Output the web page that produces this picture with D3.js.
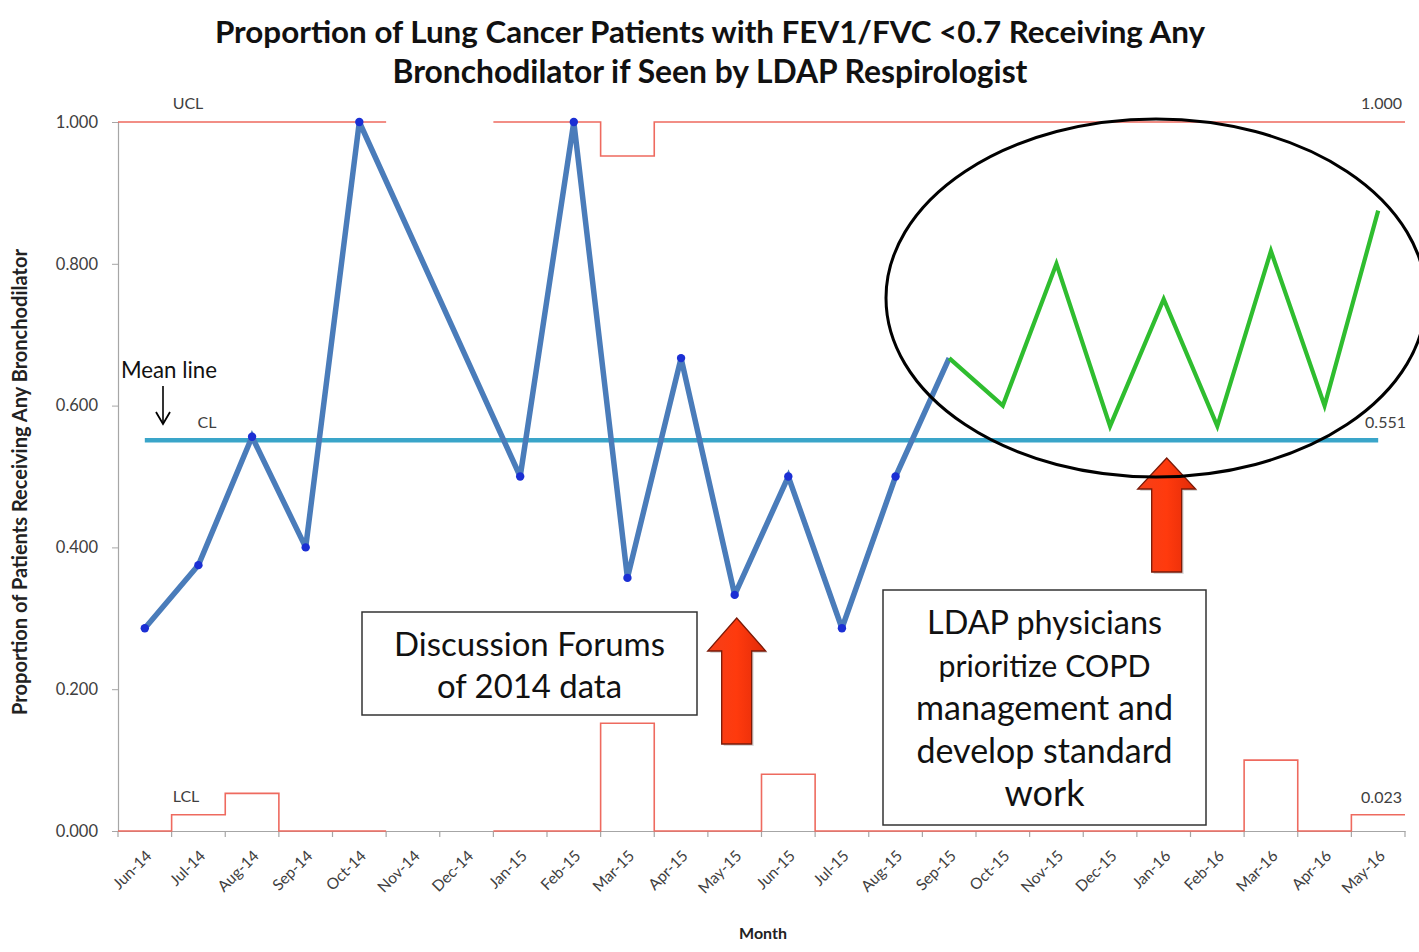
<!DOCTYPE html>
<html>
<head>
<meta charset="utf-8">
<script src="https://cdn.jsdelivr.net/npm/d3@7"></script>
<style>
  html, body { margin: 0; padding: 0; background: #fff; }
  svg { display: block; font-family: Lato, "Open Sans", sans-serif; }
</style>
</head>
<body>
<svg id="chart" width="1419" height="952"></svg>
<script>
// ---------------- DATA ----------------
const months = ["Jun-14","Jul-14","Aug-14","Sep-14","Oct-14","Nov-14","Dec-14","Jan-15","Feb-15","Mar-15","Apr-15","May-15",
                "Jun-15","Jul-15","Aug-15","Sep-15","Oct-15","Nov-15","Dec-15","Jan-16","Feb-16","Mar-16","Apr-16","May-16"];
// Baseline period (blue, with markers)
const baselineValues = [0.286,0.375,0.556,0.400,1.000,null,null,0.500,1.000,0.357,0.667,0.333,
                        0.500,0.286,0.500,0.667,null,null,null,null,null,null,null,null];
// Improvement period (green)
const improvementValues = [null,null,null,null,null,null,null,null,null,null,null,null,
                           null,null,null,0.667,0.600,0.800,0.571,0.750,0.571,0.818,0.600,0.875];
const uclValues = [1,1,1,1,1,null,null,1,1,0.952,1,1,1,1,1,1,1,1,1,1,1,1,1,1];
const lclValues = [0,0.023,0.053,0,0,null,null,0,0,0.152,0,0,0.080,0,0,0,0,0,0,0,0,0.100,0,0.023];
const centerLine = 0.551;
const yTicks = [0, 0.2, 0.4, 0.6, 0.8, 1.0];
const titleLines = ["Proportion of Lung Cancer Patients with FEV1/FVC <0.7 Receiving Any",
                    "Bronchodilator if Seen by LDAP Respirologist"];
const yAxisTitle = "Proportion of Patients Receiving Any Bronchodilator";
const xAxisTitle = "Month";
const box1Lines = ["Discussion Forums", "of 2014 data"];
const box2Lines = ["LDAP physicians", "prioritize COPD", "management and", "develop standard", "work"];

// ---------------- SETUP ----------------
const svg = d3.select("#chart");
const x = d3.scaleBand().domain(months).range([118, 1405]).padding(0);
const y = d3.scaleLinear().domain([0, 1]).range([831, 122]);
const cx = m => x(m) + x.bandwidth() / 2;

function fitWidth(sel, target) {
  sel.each(function () {
    const fs = parseFloat(this.getAttribute("font-size"));
    const w = this.getComputedTextLength();
    if (w > 0) this.setAttribute("font-size", (fs * target / w).toFixed(2));
  });
}

// ---------------- TITLE ----------------
const titleW = [990, 635];
titleLines.forEach((t, i) => {
  svg.append("text").attr("x", 710).attr("y", 43 + i * 40)
    .attr("text-anchor", "middle").attr("font-size", 26).attr("font-weight", "bold")
    .attr("fill", "#111").text(t).call(fitWidth, titleW[i]);
});

// ---------------- AXES ----------------
const yAxis = d3.axisLeft(y).tickValues(yTicks).tickFormat(d3.format(".3f")).tickSize(6).tickPadding(14);
const gy = svg.append("g").attr("transform", "translate(118,0)").call(yAxis);
gy.select(".domain").attr("stroke", "#a6a6a6").attr("stroke-width", 1.2);
gy.selectAll(".tick line").attr("stroke", "#a6a6a6");
gy.selectAll(".tick text").attr("font-size", 16.5).attr("fill", "#404040").attr("font-family", "Lato, sans-serif");

const xAxis = d3.axisBottom(x).tickSize(0).tickSizeOuter(0);
const gx = svg.append("g").attr("transform", "translate(0,831)").call(xAxis);
gx.select(".domain").attr("stroke", "#a6a6a6").attr("stroke-width", 1.2);
gx.selectAll(".tick text")
  .attr("font-size", 15.5).attr("fill", "#404040").attr("font-family", "Lato, sans-serif")
  .attr("text-anchor", "end")
  .attr("transform", "translate(4,22) rotate(-45)")
  .attr("dy", "0.35em").attr("y", 0);
// band-edge tick marks
const edges = months.map(m => x(m)).concat([x.range()[1]]);
svg.append("g").selectAll("line").data(edges).join("line")
  .attr("x1", d => d).attr("x2", d => d).attr("y1", 831).attr("y2", 837)
  .attr("stroke", "#a6a6a6").attr("stroke-width", 1.2);

svg.append("text").attr("transform", "translate(27,482) rotate(-90)")
  .attr("text-anchor", "middle").attr("font-size", 14).attr("font-weight", "bold")
  .attr("fill", "#222").text(yAxisTitle).call(fitWidth, 466);
svg.append("text").attr("x", 763).attr("y", 939).attr("text-anchor", "middle")
  .attr("font-size", 16).attr("font-weight", "bold").attr("fill", "#222").text(xAxisTitle);

// ---------------- CONTROL LIMITS (step lines) ----------------
function stepPoints(vals) {
  const pts = [];
  months.forEach((m, i) => {
    pts.push({ x: x(m), v: vals[i] });
    pts.push({ x: x(m) + x.bandwidth(), v: vals[i] });
  });
  return pts;
}
const stepLine = d3.line().defined(d => d.v != null).x(d => d.x).y(d => y(d.v));
svg.append("path").attr("d", stepLine(stepPoints(uclValues)))
  .attr("fill", "none").attr("stroke", "#ee6a5f").attr("stroke-width", 1.6);
svg.append("path").attr("d", stepLine(stepPoints(lclValues)))
  .attr("fill", "none").attr("stroke", "#ee6a5f").attr("stroke-width", 1.6);

// Center line
svg.append("line").attr("x1", cx(months[0])).attr("x2", cx(months[months.length - 1]))
  .attr("y1", y(centerLine)).attr("y2", y(centerLine))
  .attr("stroke", "#3aa5c9").attr("stroke-width", 4.5);

// ---------------- SERIES ----------------
const pts = vals => months.map((m, i) => ({ m, v: vals[i] })).filter(d => d.v != null);
const valLine = d3.line().x(d => cx(d.m)).y(d => y(d.v));
const basePts = pts(baselineValues);
svg.append("path").attr("d", valLine(basePts))
  .attr("fill", "none").attr("stroke", "#4a7cba").attr("stroke-width", 5.5)
  .attr("stroke-linejoin", "miter").attr("stroke-miterlimit", 3);
svg.append("g").selectAll("circle").data(basePts.slice(0, -1)).join("circle")
  .attr("cx", d => cx(d.m)).attr("cy", d => y(d.v)).attr("r", 4.2).attr("fill", "#1b2fd4");
svg.append("path").attr("d", valLine(pts(improvementValues)))
  .attr("fill", "none").attr("stroke", "#2fbd2f").attr("stroke-width", 4.2)
  .attr("stroke-linejoin", "miter");

// ---------------- LABELS ----------------
const lblFs = 16;
function smallLabel(t, xx, yy, anchor) {
  svg.append("text").attr("x", xx).attr("y", yy).attr("text-anchor", anchor || "middle")
    .attr("font-size", lblFs).attr("fill", "#404040").text(t);
}
smallLabel("UCL", 188, 109);
smallLabel("CL", 207, 428);
smallLabel("LCL", 186, 802);
smallLabel(d3.format(".3f")(uclValues[uclValues.length - 1]), 1402, 109, "end");
smallLabel(d3.format(".3f")(centerLine), 1406, 428, "end");
smallLabel(d3.format(".3f")(lclValues[lclValues.length - 1]), 1402, 803, "end");

// Mean line annotation
svg.append("text").attr("x", 121).attr("y", 378).attr("font-size", 19).attr("fill", "#111")
  .text("Mean line").call(fitWidth, 96);
svg.append("line").attr("x1", 163).attr("x2", 163).attr("y1", 386).attr("y2", 422)
  .attr("stroke", "#000").attr("stroke-width", 1.6);
svg.append("path").attr("d", "M156,412 L163,424 L170,412").attr("fill", "none")
  .attr("stroke", "#000").attr("stroke-width", 1.8);

// ---------------- TEXT BOXES ----------------
function textBox(x0, y0, w, h, lines, base, step, widths) {
  svg.append("rect").attr("x", x0).attr("y", y0).attr("width", w).attr("height", h)
    .attr("fill", "#fff").attr("stroke", "#333").attr("stroke-width", 1.5);
  lines.forEach((t, i) => {
    svg.append("text").attr("x", x0 + w / 2).attr("y", base + i * step)
      .attr("text-anchor", "middle").attr("font-size", 27).attr("fill", "#111")
      .text(t).call(fitWidth, widths[i]);
  });
}
textBox(362, 612, 335, 103, box1Lines, 656, 42, [271, 185]);
textBox(883, 590, 323, 235, box2Lines, 634, 43, [235, 212, 257, 256, 80]);

// ---------------- RED ARROWS ----------------
const defs = svg.append("defs");
const grad = defs.append("linearGradient").attr("id", "arrowGrad").attr("x1", 0).attr("x2", 1);
grad.append("stop").attr("offset", "0%").attr("stop-color", "#f5401a");
grad.append("stop").attr("offset", "50%").attr("stop-color", "#ff3a0d");
grad.append("stop").attr("offset", "100%").attr("stop-color", "#e02a08");
function upArrow(xc, tip, headBase, bottom, headHalf, shaftHalf) {
  const p = `M${xc},${tip} L${xc + headHalf},${headBase} L${xc + shaftHalf},${headBase} L${xc + shaftHalf},${bottom}
             L${xc - shaftHalf},${bottom} L${xc - shaftHalf},${headBase} L${xc - headHalf},${headBase} Z`;
  svg.append("path").attr("d", p).attr("transform", "translate(2,2)").attr("fill", "#000").attr("opacity", 0.15);
  svg.append("path").attr("d", p).attr("fill", "url(#arrowGrad)").attr("stroke", "#7a1a08").attr("stroke-width", 1.3);
}
upArrow(cx("May-15") + 2, 618, 651, 744, 29, 15);
upArrow(cx("Jan-16") + 3, 458, 489, 572, 29, 15);

// ---------------- ELLIPSE ----------------
svg.append("ellipse").attr("cx", 1156).attr("cy", 298).attr("rx", 270).attr("ry", 179)
  .attr("fill", "none").attr("stroke", "#000").attr("stroke-width", 3);
</script>
</body>
</html>
